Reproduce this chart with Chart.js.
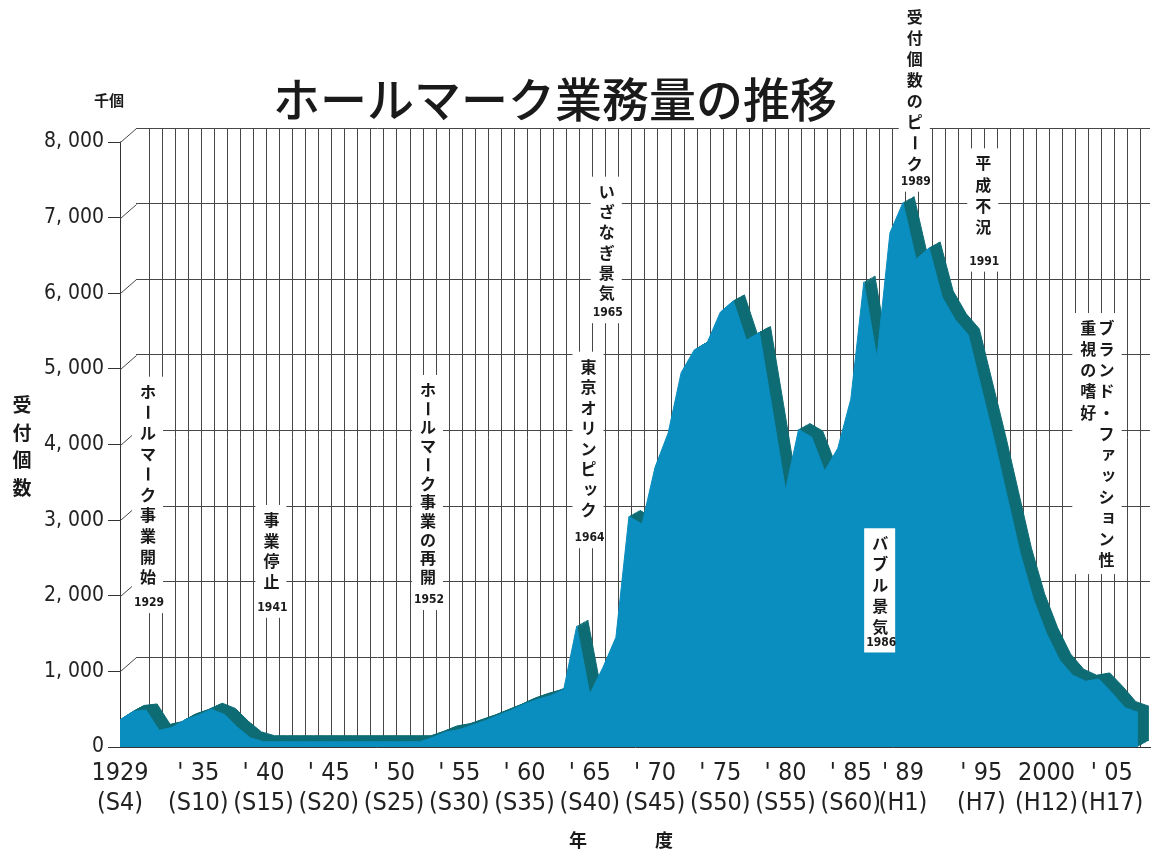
<!DOCTYPE html>
<html lang="ja">
<head>
<meta charset="utf-8">
<title>ホールマーク業務量の推移</title>
<script src="https://cdn.jsdelivr.net/npm/chart.js@4.4.1/dist/chart.umd.min.js"></script>
<style>
  html, body { margin: 0; padding: 0; background: #fff; }
  #wrap { width: 1155px; height: 856px; }
</style>
</head>
<body>
<div id="wrap"><canvas id="hallmark" width="1155" height="856"></canvas></div>
<script>
// 年度
const years = [
  1929, 1930, 1931, 1932, 1933, 1934, 1935, 1936, 1937, 1938,
  1939, 1940, 1941, 1942, 1943, 1944, 1945, 1946, 1947, 1948,
  1949, 1950, 1951, 1952, 1953, 1954, 1955, 1956, 1957, 1958,
  1959, 1960, 1961, 1962, 1963, 1964, 1965, 1966, 1967, 1968,
  1969, 1970, 1971, 1972, 1973, 1974, 1975, 1976, 1977, 1978,
  1979, 1980, 1981, 1982, 1983, 1984, 1985, 1986, 1987, 1988,
  1989, 1990, 1991, 1992, 1993, 1994, 1995, 1996, 1997, 1998,
  1999, 2000, 2001, 2002, 2003, 2004, 2005, 2006, 2007
];

// 受付個数（千個）
const counts = [
  360, 470, 490, 220, 260, 360, 420, 500, 430, 260,
  120, 70, 70, 70, 70, 70, 70, 70, 70, 70,
  70, 70, 70, 70, 130, 200, 230, 290, 350, 420,
  490, 570, 630, 680, 760, 1600, 700, 1050, 1450, 3050,
  2950, 3700, 4150, 4950, 5250, 5350, 5750, 5900, 5380, 5480,
  4450, 3400, 4200, 4100, 3650, 3950, 4600, 6150, 5150, 6800,
  7200, 6450, 6600, 5950, 5650, 5450, 4750, 4050, 3300, 2550,
  1950, 1500, 1150, 950, 870, 900, 720, 520, 460
];

// x軸の目盛（西暦と元号）
const tickYears = [1929, 1935, 1940, 1945, 1950, 1955, 1960, 1965, 1970, 1975, 1980, 1985, 1989, 1995, 2000, 2005];
const tickYearText = ['1929', "' 35", "' 40", "' 45", "' 50", "' 55", "' 60", "' 65", "' 70", "' 75", "' 80", "' 85", "' 89", "' 95", '2000', "' 05"];
const tickEraText = ['(S4)', '(S10)', '(S15)', '(S20)', '(S25)', '(S30)', '(S35)', '(S40)', '(S45)', '(S50)', '(S55)', '(S60)', '(H1)', '(H7)', '(H12)', '(H17)'];

// y軸の目盛
const yTicks = [0, 1000, 2000, 3000, 4000, 5000, 6000, 7000, 8000];

// 出来事の注記（縦書き）: x = 年, y = 1文字目の高さ（千個）
const notes = [
  { cols: ['ホールマーク事業開始'], xs: [1931.15], y: 4698, step: 20.6, tag: '1929', tagGap: 26 },
  { cols: ['事業停止'], xs: [1940.6], y: 3002, step: 20.6, tag: '1941', tagGap: 26 },
  { cols: ['ホールマーク事業の再開'], xs: [1952.6], y: 4721, step: 18.7, tag: '1952', tagGap: 23 },
  { cols: ['東京オリンピック'], xs: [1964.9], y: 5029, step: 20.5, tag: '1964', tagGap: 28 },
  { cols: ['いざなぎ景気'], xs: [1966.3], y: 7343, step: 20.3, tag: '1965', tagGap: 20 },
  { cols: ['受付個数のピーク'], xs: [1989.9], y: 9657, step: 21, tag: '1989', tagGap: 18 },
  { cols: ['平成不況'], xs: [1995.15], y: 7718, step: 21.1, tag: '1991', tagGap: 35 },
  { cols: ['バブル景気'], xs: [1987.25], y: 2694, step: 20.8, tag: '1986', tagGap: 16 },
  { cols: ['ブランド・ファッション性', '重視の嗜好'], xs: [2004.6, 2003.2], y: 5540, step: 21.1 }
];

// レイアウト
const PLOT_W = 1030, PLOT_H = 619;          // 描画領域 (120..1150, 128..747)
const PX_PER_YEAR = 13.05;
const PX_PER_UNIT = 605 / 8000;             // 8,000 の目盛が y=142
const X_MIN = 1929, X_MAX = X_MIN + PLOT_W / PX_PER_YEAR;
const Y_MAX = PLOT_H / PX_PER_UNIT;
const WALL_DX = 16, WALL_DY = 14;           // 奥の格子面のずれ
const SLAB_DX = 11, SLAB_DY = 6;            // 面グラフの厚み
const SLAB_STEPS = 8;

const LIGHT = '#0a8dbf';
const DARK = '#0e6c74';
const GRID = '#474747';
const NARROW = "'Liberation Sans Narrow', 'DejaVu Sans Condensed', 'Liberation Sans', sans-serif";
const JP = "'Noto Sans CJK JP', 'Noto Sans CJK SC', sans-serif";

const points = years.map((yr, i) => ({ x: yr, y: counts[i] }));

const scales = {
  x: {
    type: 'linear', position: 'bottom', bounds: 'data', min: X_MIN, max: X_MAX,
    grid: { display: false, drawTicks: false },
    border: { display: true, color: '#333', width: 1 },
    afterBuildTicks: axis => { axis.ticks = tickYears.map(v => ({ value: v })); },
    afterFit: axis => { axis.height = 109; },
    ticks: {
      autoSkip: false, maxRotation: 0, minRotation: 0, padding: 11, color: '#222',
      font: { family: NARROW, size: 25, lineHeight: 1.2 },
      callback: v => {
        const i = tickYears.indexOf(v);
        return i < 0 ? '' : [tickYearText[i], tickEraText[i]];
      }
    }
  },
  y: {
    type: 'linear', position: 'left', bounds: 'data', min: 0, max: Y_MAX,
    grid: { drawOnChartArea: false, drawTicks: true, tickLength: 12, color: '#333' },
    border: { display: true, color: '#333', width: 1 },
    afterBuildTicks: axis => { axis.ticks = yTicks.map(v => ({ value: v })); },
    afterFit: axis => { axis.width = 120; },
    ticks: {
      padding: 4, color: '#222',
      font: { family: NARROW, size: 21 },
      callback: v => v === 0 ? '0' : String(v).replace(/(\d)(\d{3})$/, '$1, $2')
    }
  },
  // 奥の格子面
  xg: {
    type: 'linear', position: 'bottom', bounds: 'data',
    min: X_MIN - WALL_DX / PX_PER_YEAR, max: X_MAX - WALL_DX / PX_PER_YEAR,
    ticks: { display: false },
    grid: { color: GRID, lineWidth: 1, drawTicks: false },
    border: { display: false },
    afterBuildTicks: axis => {
      axis.ticks = years.filter(v => v >= axis.min && v <= axis.max).map(v => ({ value: v }));
    },
    afterFit: axis => { axis.height = 0; }
  },
  yg: {
    type: 'linear', position: 'left', bounds: 'data',
    min: 8000 - Y_MAX, max: 8000,
    ticks: { display: false },
    grid: { color: GRID, lineWidth: 1, drawTicks: false },
    border: { display: false },
    afterBuildTicks: axis => { axis.ticks = yTicks.filter(v => v > 0).map(v => ({ value: v })); },
    afterFit: axis => { axis.width = 0; }
  }
};

const datasets = [{
  label: '受付個数',
  data: points,
  xAxisID: 'x', yAxisID: 'y',
  fill: 'origin',
  backgroundColor: LIGHT, borderColor: LIGHT, borderWidth: 1,
  pointRadius: 0, tension: 0
}];

// 厚みの側面: 少しずつずらした軸に同じデータを重ねる
for (let k = 1; k <= SLAB_STEPS; k++) {
  const dx = SLAB_DX * k / SLAB_STEPS / PX_PER_YEAR;
  const dy = SLAB_DY * k / SLAB_STEPS / PX_PER_UNIT;
  scales['xd' + k] = { type: 'linear', display: false, bounds: 'data', min: X_MIN - dx, max: X_MAX - dx };
  scales['yd' + k] = { type: 'linear', display: false, bounds: 'data', min: -dy, max: Y_MAX - dy };
  datasets.push({
    data: points,
    xAxisID: 'xd' + k, yAxisID: 'yd' + k,
    fill: 'origin',
    backgroundColor: DARK, borderColor: DARK, borderWidth: 1,
    pointRadius: 0, tension: 0
  });
}

function drawColumn(ctx, text, cx, y0, step) {
  const chars = Array.from(text);
  chars.forEach((ch, i) => {
    const cy = y0 + i * step;
    if (ch === 'ー') {
      ctx.save();
      ctx.translate(cx, cy);
      ctx.rotate(Math.PI / 2);
      ctx.fillText(ch, 0, 0);
      ctx.restore();
    } else if ('ッァョャュィ'.includes(ch)) {
      ctx.fillText(ch, cx + 2, cy - 2);
    } else {
      ctx.fillText(ch, cx, cy);
    }
  });
}

const decor = {
  id: 'decor',
  beforeDatasetsDraw(chart) {
    const { ctx, chartArea, scales: s } = chart;
    const frontX = chartArea.left;
    const wallX = s.xg.getPixelForValue(1929);
    const top8000 = s.y.getPixelForValue(8000);
    ctx.save();
    // 手前の軸と奥の面の間は空ける
    ctx.fillStyle = '#fff';
    ctx.fillRect(frontX + 1, chartArea.top - 2, wallX - frontX - 1, chartArea.bottom - chartArea.top + 2);
    ctx.fillRect(frontX - 3, chartArea.top - 2, 5, top8000 - chartArea.top + 1.5);
    // 目盛から奥の格子へ斜めにつなぐ
    ctx.strokeStyle = GRID;
    ctx.lineWidth = 1;
    ctx.beginPath();
    yTicks.forEach(v => {
      ctx.moveTo(frontX + 0.5, Math.round(s.y.getPixelForValue(v)) + 0.5);
      ctx.lineTo(wallX + 0.5, Math.round(s.yg.getPixelForValue(v)) + 0.5);
    });
    ctx.stroke();
    ctx.restore();
  },
  afterDatasetsDraw(chart) {
    const { ctx, scales: s } = chart;
    ctx.save();
    ctx.textAlign = 'center';
    ctx.textBaseline = 'middle';
    notes.forEach(n => {
      const xs = n.xs.map(v => s.x.getPixelForValue(v));
      const y0 = s.y.getPixelForValue(n.y);
      const longest = Math.max(...n.cols.map(c => Array.from(c).length));
      const last = y0 + (longest - 1) * n.step;
      const tagY = n.tag ? last + n.tagGap : null;
      const left = Math.min(...xs) - 16;
      const right = Math.max(...xs) + 15;
      const bottom = n.tag ? tagY + 10 : last + 14;
      ctx.fillStyle = '#fff';
      ctx.fillRect(left, y0 - 15, right - left, bottom - (y0 - 15));
      ctx.fillStyle = '#1a1a1a';
      ctx.font = `bold 16px ${JP}`;
      n.cols.forEach((c, i) => drawColumn(ctx, c, xs[i], y0, n.step));
      if (n.tag) {
        ctx.font = `bold 12px ${NARROW}`;
        ctx.fillText(n.tag, xs[0] + 1, tagY);
      }
    });
    ctx.restore();
  },
  afterDraw(chart) {
    const { ctx } = chart;
    ctx.save();
    ctx.fillStyle = '#1a1a1a';
    ctx.textAlign = 'center';
    ctx.textBaseline = 'middle';
    ctx.font = `500 47px ${JP}`;
    ctx.fillText('ホールマーク業務量の推移', 555, 99);
    ctx.font = `bold 15px ${JP}`;
    ctx.fillText('千個', 109, 100);
    ctx.font = `bold 19px ${JP}`;
    drawColumn(ctx, '受付個数', 22, 405, 27.5);
    ctx.font = `bold 18px ${JP}`;
    ctx.fillText('年', 578, 840);
    ctx.fillText('度', 664, 840);
    ctx.restore();
  }
};

new Chart(document.getElementById('hallmark'), {
  type: 'line',
  data: { datasets },
  options: {
    responsive: false,
    devicePixelRatio: 1,
    animation: false,
    events: [],
    layout: { padding: { top: 128, right: 5, left: 0, bottom: 0 } },
    plugins: { legend: { display: false }, tooltip: { enabled: false }, title: { display: false } },
    scales
  },
  plugins: [decor]
});
</script>
</body>
</html>
